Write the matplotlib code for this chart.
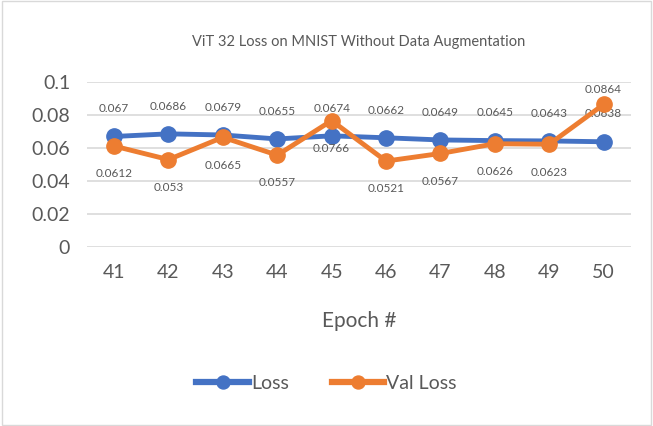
import matplotlib.pyplot as plt
from matplotlib.patches import Rectangle
from matplotlib.ticker import FuncFormatter

epochs = [41, 42, 43, 44, 45, 46, 47, 48, 49, 50]
loss = [0.067, 0.0686, 0.0679, 0.0655, 0.0674, 0.0662, 0.0649, 0.0645, 0.0643, 0.0638]
val_loss = [0.0612, 0.053, 0.0665, 0.0557, 0.0766, 0.0521, 0.0567, 0.0626, 0.0623, 0.0864]
# where the val labels sit (Excel put the last one above)
val_above = [False] * 9 + [True]

blue = '#4472C4'
orange = '#ED7D31'
txt = '#595959'

plt.rcParams['font.family'] = ['Lato', 'DejaVu Sans']

fig = plt.figure(figsize=(6.53, 4.26), dpi=100)
ax = fig.add_axes([0.133, 0.42, 0.833, 0.3875])

ax.plot(epochs, loss, color=blue, lw=3.5, marker='o', ms=11, label='Loss', zorder=3)
ax.plot(epochs, val_loss, color=orange, lw=3.5, marker='o', ms=11, label='Val Loss', zorder=4)

for x, y in zip(epochs, loss):
    ax.annotate(f'{y:g}', (x, y), xytext=(0, 20), textcoords='offset points',
                ha='center', va='center', fontsize=8.5, color=txt)
for x, y, up in zip(epochs, val_loss, val_above):
    ax.annotate(f'{y:g}', (x, y), xytext=(0, 11 if up else -20), textcoords='offset points',
                ha='center', va='center', fontsize=8.5, color=txt)

ax.set_xlim(40.5, 50.5)
ax.set_ylim(0, 0.1)
ax.set_xticks(epochs)
ax.set_yticks([0, 0.02, 0.04, 0.06, 0.08, 0.1])
ax.yaxis.set_major_formatter(FuncFormatter(lambda v, p: f'{v:g}'))
ax.tick_params(length=0, labelsize=14, labelcolor=txt, pad=12)
ax.grid(axis='y', color='#D9D9D9', lw=1.2)
ax.set_axisbelow(True)
for s in ax.spines.values():
    s.set_visible(False)

ax.set_xlabel('Epoch #', fontsize=15, color=txt, labelpad=22)
ax.set_title('ViT 32 Loss on MNIST Without Data Augmentation', fontsize=10.5, color=txt, pad=26)

leg = fig.legend(loc='center', bbox_to_anchor=(0.5, 0.1), ncol=2, frameon=False,
                 fontsize=14, handlelength=2.7, columnspacing=2.2, handletextpad=0.1,
                 markerscale=0.85, labelcolor=txt)
for h in leg.legend_handles:
    h.set_linewidth(4.5)

fig.add_artist(Rectangle((0.003, 0.003), 0.994, 0.994, transform=fig.transFigure,
                         fill=False, ec='#D9D9D9', lw=1))

fig.savefig('out.png', dpi=100)
